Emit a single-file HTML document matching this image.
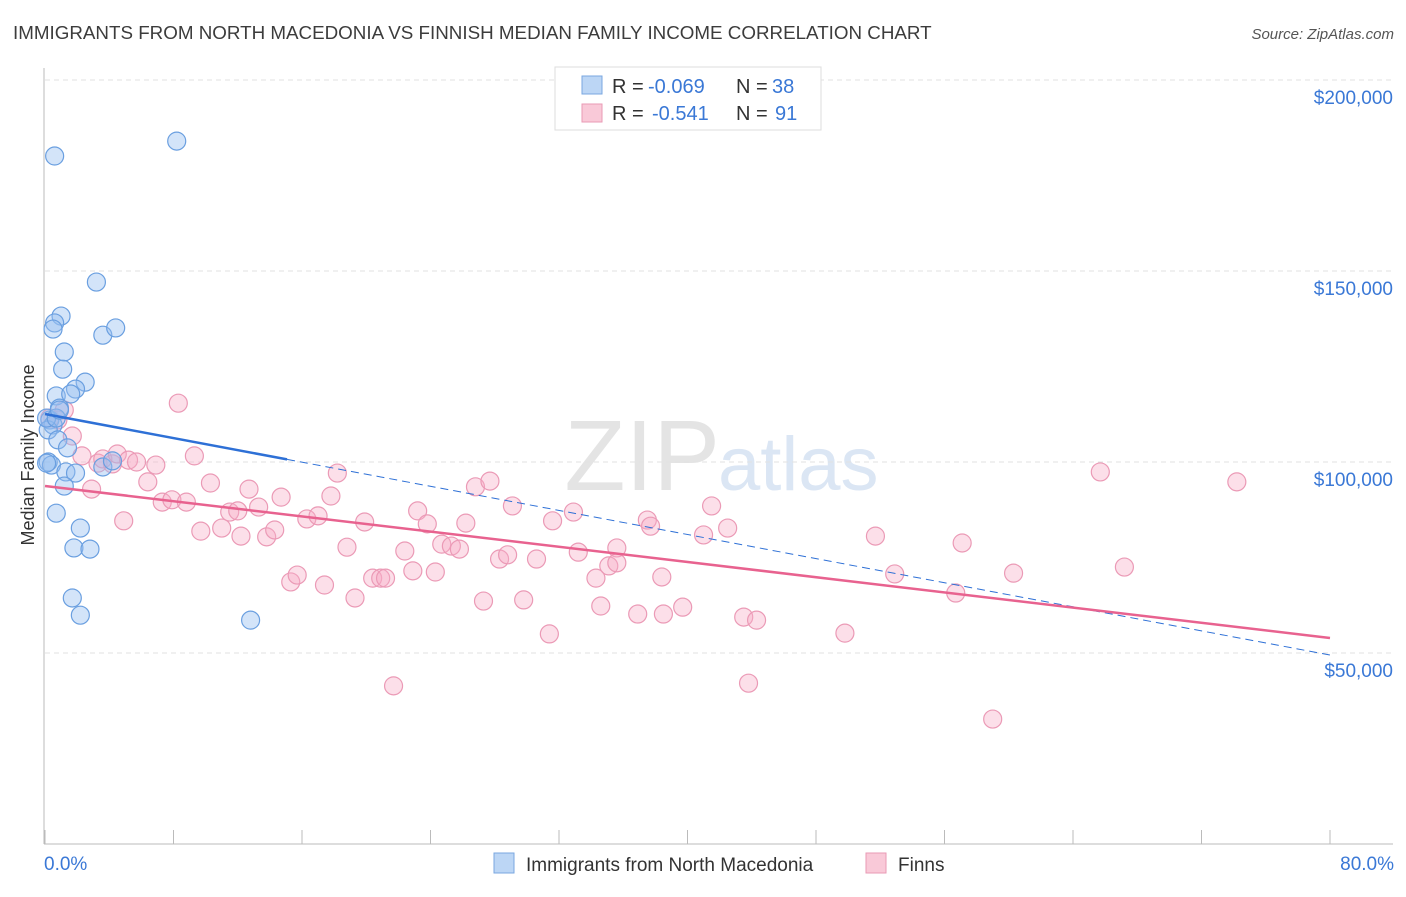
<!DOCTYPE html>
<html><head><meta charset="utf-8"><style>
body{margin:0;background:#fff;font-family:"Liberation Sans",sans-serif}
svg text{font-family:"Liberation Sans",sans-serif}
</style></head><body>
<svg id="c" width="1406" height="892">
<text x="13" y="39" font-size="18.8" fill="#3c3c3c">IMMIGRANTS FROM NORTH MACEDONIA VS FINNISH MEDIAN FAMILY INCOME CORRELATION CHART</text>
<text x="1394" y="39" font-size="15" fill="#555" font-style="italic" text-anchor="end">Source: ZipAtlas.com</text>
<text x="720" y="490" font-size="100" fill="#e4e4e4" text-anchor="end" font-family="Liberation Serif">ZIP</text>
<text x="718" y="490" font-size="76" fill="#dbe6f4">atlas</text>
<text transform="translate(34,455) rotate(-90)" font-size="18" fill="#333" text-anchor="middle">Median Family Income</text>
<g id="grid"></g><g id="pts"></g><g id="lines"></g>
<g>
<rect x="555" y="67" width="266" height="63" fill="#fff" stroke="#ddd"/>
<rect x="582" y="76" width="20" height="18" fill="#bcd6f5" stroke="#7aa7e0"/>
<rect x="582" y="104" width="20" height="18" fill="#f9c9d8" stroke="#e99ab5"/>
<text x="612" y="93" font-size="20" fill="#333">R =</text>
<text x="648" y="93" font-size="20" fill="#3a78d6">-0.069</text>
<text x="736" y="93" font-size="20" fill="#333">N =</text>
<text x="772" y="93" font-size="20" fill="#3a78d6">38</text>
<text x="612" y="120" font-size="20" fill="#333">R =</text>
<text x="652" y="120" font-size="20" fill="#3a78d6">-0.541</text>
<text x="736" y="120" font-size="20" fill="#333">N =</text>
<text x="775" y="120" font-size="20" fill="#3a78d6">91</text>
</g>
<rect x="494" y="853" width="20" height="20" fill="#bcd6f5" stroke="#7aa7e0"/>
<text x="526" y="871" font-size="19" fill="#333">Immigrants from North Macedonia</text>
<rect x="866" y="853" width="20" height="20" fill="#f9c9d8" stroke="#e99ab5"/>
<text x="898" y="871" font-size="19" fill="#333">Finns</text>
</svg>
<script>
const yTicks=[50000,100000,150000,200000];
const yTickLabels=["$50,000","$100,000","$150,000","$200,000"];
const xTickLabels=["0.0%","80.0%"];
const blueX=[0.6,8.2,3.2,1.0,0.6,0.5,3.6,4.4,1.2,1.1,2.5,1.9,0.7,1.6,0.9,0.3,0.5,0.2,0.8,1.4,0.2,0.4,1.3,1.9,3.6,4.2,1.2,0.7,2.2,1.8,2.8,1.7,2.2,12.8,0.1,0.7,0.1,0.9];
const blueY=[180.1,184.0,147.1,138.2,136.4,134.8,133.2,135.1,128.8,124.3,120.9,119.1,117.3,117.8,114.1,111.0,109.7,108.4,105.8,103.7,100.0,99.2,97.4,97.1,98.7,100.3,93.7,86.6,82.7,77.5,77.2,64.4,59.9,58.6,111.5,111.5,99.7,113.6];
const pinkX=[0.3,1.2,0.8,1.7,2.3,2.9,3.3,4.2,3.6,4.5,4.9,5.2,5.7,6.4,6.9,7.3,7.9,8.3,8.8,9.3,9.7,10.3,11.0,11.5,12.0,12.2,12.7,13.3,13.8,14.3,14.7,15.3,15.7,16.3,17.0,17.4,17.8,18.2,18.8,19.3,19.9,20.4,20.9,21.2,21.7,22.4,22.9,23.2,23.8,24.3,24.7,25.3,25.8,26.2,26.8,27.3,27.7,28.3,28.8,29.1,29.8,30.6,31.4,31.6,32.9,33.2,34.3,34.6,35.1,35.6,35.6,36.9,37.5,37.7,38.5,38.4,39.7,41.0,41.5,42.5,43.5,43.8,44.3,49.8,51.7,52.9,56.7,57.1,59.0,60.3,65.7,67.2,74.2];
const pinkY=[111.5,113.6,111.0,106.8,101.6,92.9,99.7,99.5,100.8,102.1,84.6,100.5,100.0,94.8,99.2,89.5,90.1,115.4,89.5,101.6,81.9,94.5,82.7,86.9,87.2,80.6,92.9,88.2,80.4,82.2,90.8,68.6,70.4,85.1,85.9,67.8,91.1,97.1,77.7,64.4,84.3,69.6,69.6,69.6,41.4,76.7,71.5,87.2,83.8,71.2,78.5,78.0,77.2,84.0,93.5,63.6,95.0,74.6,75.7,88.5,63.9,74.6,55.0,84.6,86.9,76.4,69.6,62.3,72.8,77.5,73.6,60.2,84.8,83.2,60.2,69.9,62.0,80.9,88.5,82.7,59.4,42.1,58.6,55.2,80.6,70.7,65.7,78.8,32.7,70.9,97.4,72.5,94.8];
const blueTrend=[112565,49476];
const pinkTrend=[93717,53927];
const blueSolidEnd=15.07;
const NS="http://www.w3.org/2000/svg";
const X=p=>45+p/80*1285;
const Y=v=>844-v/50000*191;
function mk(t,a,parent){const e=document.createElementNS(NS,t);for(const k in a)e.setAttribute(k,a[k]);document.getElementById(parent).appendChild(e);return e;}
yTicks.forEach((t,i)=>{
 const l=mk('line',{x1:45,x2:1393,y1:Y(t),y2:Y(t),stroke:'#e2e2e2','stroke-dasharray':'5,4'},'grid');
 
 
 const tx=mk('text',{x:1393,y:Y(t)+24,'font-size':19,fill:'#3a78d6','text-anchor':'end'},'grid');
 tx.textContent=yTickLabels[i];
 
 
});
const ax=mk('line',{x1:44,x2:44,y1:68,y2:844,stroke:'#bbb'},'grid');


const bx=mk('line',{x1:44,x2:1393,y1:844,y2:844,stroke:'#bbb'},'grid');


for(let i=0;i<=10;i++){const t=mk('line',{x1:X(i*8),x2:X(i*8),y1:830,y2:844,stroke:'#bbb'},'grid');
 
 }
[[0,'start',44],[80,'end',1394]].forEach((d,i)=>{const t=mk('text',{x:d[2],y:870,'font-size':19,fill:'#3a78d6','text-anchor':d[1]},'grid');t.textContent=xTickLabels[i];
 
 });
pinkX.forEach((x,i)=>{const c=mk('circle',{cx:X(x),cy:Y(pinkY[i]*1000),r:9,fill:'rgba(246,172,197,0.38)',stroke:'#eb9ab6','stroke-width':1.2},'pts');
 
 });
blueX.forEach((x,i)=>{const c=mk('circle',{cx:X(x),cy:Y(blueY[i]*1000),r:9,fill:'rgba(150,190,240,0.42)',stroke:'#6a9fe0','stroke-width':1.2},'pts');
 
 });
const bAt=p=>blueTrend[0]+(blueTrend[1]-blueTrend[0])*p/80;
const l1=mk('line',{x1:X(0),y1:Y(bAt(0)),x2:X(blueSolidEnd),y2:Y(bAt(blueSolidEnd)),stroke:'#2e70d6','stroke-width':2.5},'lines');


const l2=mk('line',{x1:X(blueSolidEnd),y1:Y(bAt(blueSolidEnd)),x2:X(80),y2:Y(blueTrend[1]),stroke:'#2e70d6','stroke-width':1,'stroke-dasharray':'8,5'},'lines');


const l3=mk('line',{x1:X(0),y1:Y(pinkTrend[0]),x2:X(80),y2:Y(pinkTrend[1]),stroke:'#e8628f','stroke-width':2.5},'lines');


</script>
</body></html>
